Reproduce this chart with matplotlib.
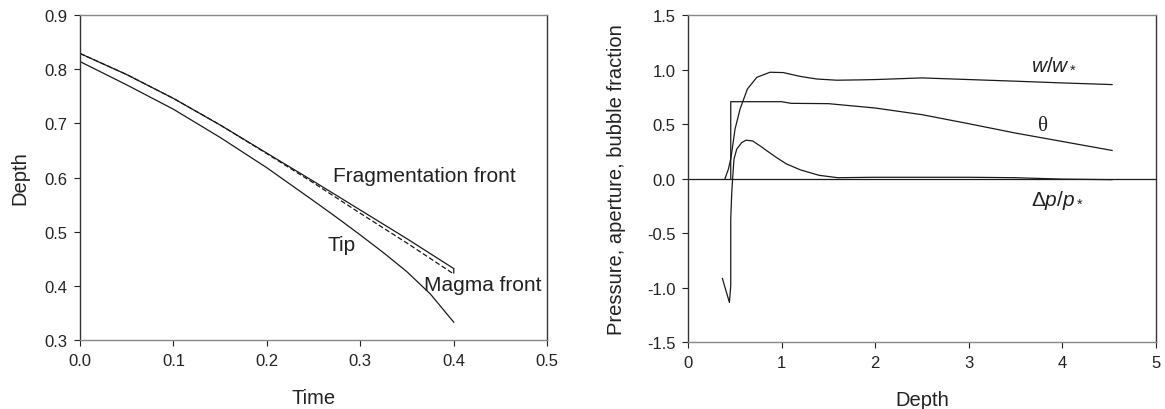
import matplotlib
matplotlib.use("Agg")
import matplotlib.pyplot as plt
from matplotlib.ticker import FormatStrFormatter, MultipleLocator

plt.rcParams['font.family'] = ['Liberation Sans', 'DejaVu Sans']
plt.rcParams['axes.unicode_minus'] = False
plt.rcParams['mathtext.fontset'] = 'custom'
plt.rcParams['mathtext.rm'] = 'Liberation Sans'
plt.rcParams['mathtext.it'] = 'Liberation Sans:italic'

# ---- left panel: fronts vs time ----
time = [0.0, 0.05, 0.1, 0.15, 0.2, 0.25, 0.3, 0.35, 0.4]
frag_front = [0.829, 0.790, 0.746, 0.697, 0.645, 0.593, 0.540, 0.487, 0.432]
magma_time = [0.0, 0.05, 0.1, 0.15, 0.2, 0.25, 0.3, 0.35, 0.4, 0.4]
magma_front = [0.829, 0.790, 0.746, 0.697, 0.644, 0.590, 0.534, 0.479, 0.422, 0.432]
tip_time = [0.0, 0.05, 0.1, 0.15, 0.2, 0.25, 0.275, 0.3, 0.325, 0.35, 0.375, 0.4]
tip = [0.814, 0.771, 0.726, 0.674, 0.618, 0.557, 0.526, 0.494, 0.461, 0.426, 0.385, 0.333]

# ---- right panel: profiles vs depth ----
w_depth = [0.395, 0.431, 0.456, 0.467, 0.502, 0.556, 0.634, 0.734, 0.876, 1.018,
           1.197, 1.375, 1.588, 1.838, 2.0, 2.5, 3.0, 3.5, 4.0, 4.53]
w_ratio = [0.0, 0.087, 0.179, 0.24, 0.454, 0.638, 0.821, 0.928, 0.975, 0.972,
           0.937, 0.913, 0.902, 0.905, 0.908, 0.923, 0.908, 0.893, 0.877, 0.862]

theta_depth = [0.456, 0.456, 1.0, 1.1, 1.5, 2.0, 2.5, 3.0, 3.5, 4.0, 4.53]
theta = [0.0, 0.705, 0.705, 0.69, 0.687, 0.647, 0.586, 0.503, 0.417, 0.34, 0.258]

dp_depth = [0.367, 0.442, 0.456, 0.456, 0.467, 0.477, 0.491, 0.520, 0.573, 0.62, 0.69,
            0.769, 0.85, 0.95, 1.05, 1.2, 1.4, 1.6, 2.0, 3.0, 3.5, 4.0, 4.53]
dp_ratio = [-0.916, -1.136, -0.983, -0.372, -0.127, 0.01, 0.179, 0.27, 0.33, 0.352, 0.345,
            0.30, 0.25, 0.19, 0.135, 0.08, 0.03, 0.008, 0.012, 0.012, 0.008, -0.005, -0.01]

ink = '#1a1a1a'
lw = 0.9

fig = plt.figure(figsize=(11.65, 4.10), dpi=100)
ax1 = fig.add_axes([0.0687, 0.168, 0.401, 0.793])
ax2 = fig.add_axes([0.5906, 0.163, 0.4017, 0.798])

ax1.plot(time, frag_front, color=ink, lw=lw)
ax1.plot(magma_time, magma_front, color=ink, lw=lw, linestyle=(0, (4, 2)))
ax1.plot(tip_time, tip, color=ink, lw=lw)
ax1.set_xlim(0, 0.5)
ax1.set_ylim(0.3, 0.9)
ax1.xaxis.set_major_locator(MultipleLocator(0.1))
ax1.yaxis.set_major_locator(MultipleLocator(0.1))
ax1.xaxis.set_major_formatter(FormatStrFormatter('%.1f'))
ax1.yaxis.set_major_formatter(FormatStrFormatter('%.1f'))
ax1.set_xlabel('Time', fontsize=14.5, color='#222')
ax1.set_ylabel('Depth', fontsize=14.5, color='#222')
ax1.xaxis.set_label_coords(0.5, -0.175)
ax1.yaxis.set_label_coords(-0.128, 0.5)
ax1.xaxis.label.set_va('center')
ax1.yaxis.label.set_va('center')
ax1.text(0.271, 0.603, 'Fragmentation front', fontsize=15, color='#222', va='center')
ax1.text(0.265, 0.477, 'Tip', fontsize=15, color='#222', va='center')
ax1.text(0.368, 0.403, 'Magma front', fontsize=15, color='#222', va='center')

ax2.axhline(0, color=ink, lw=lw)
ax2.plot(w_depth, w_ratio, color=ink, lw=lw)
ax2.plot(theta_depth, theta, color=ink, lw=lw)
ax2.plot(dp_depth, dp_ratio, color=ink, lw=lw)
ax2.set_xlim(0, 5)
ax2.set_ylim(-1.5, 1.5)
ax2.xaxis.set_major_locator(MultipleLocator(1))
ax2.yaxis.set_major_locator(MultipleLocator(0.5))
ax2.xaxis.set_major_formatter(FormatStrFormatter('%d'))
ax2.yaxis.set_major_formatter(FormatStrFormatter('%.1f'))
ax2.set_xlabel('Depth', fontsize=14.5, color='#222')
ax2.set_ylabel('Pressure, aperture, bubble fraction', fontsize=14.5, color='#222')
ax2.xaxis.set_label_coords(0.5, -0.175)
ax2.yaxis.set_label_coords(-0.152, 0.5)
ax2.xaxis.label.set_va('center')
ax2.yaxis.label.set_va('center')
ax2.text(3.66, 1.067, r'$w/w_*$', fontsize=15, color='#222', va='center')
ax2.text(3.74, 0.485, 'θ', fontsize=15, color='#222', va='center',
         family='Liberation Serif')
ax2.text(3.66, -0.196, r'$\Delta p/p_*$', fontsize=15, color='#222', va='center')

for ax in (ax1, ax2):
    ax.tick_params(direction='out', length=4, width=0.8, labelsize=12,
                   colors='#222', pad=5)
    ax.spines['left'].set_color('#333')
    ax.spines['right'].set_color('#333')
    ax.spines['top'].set_color('#888')
    ax.spines['bottom'].set_color('#888')
    for s in ax.spines.values():
        s.set_linewidth(1.0)

fig.savefig('out.png', dpi=100)
